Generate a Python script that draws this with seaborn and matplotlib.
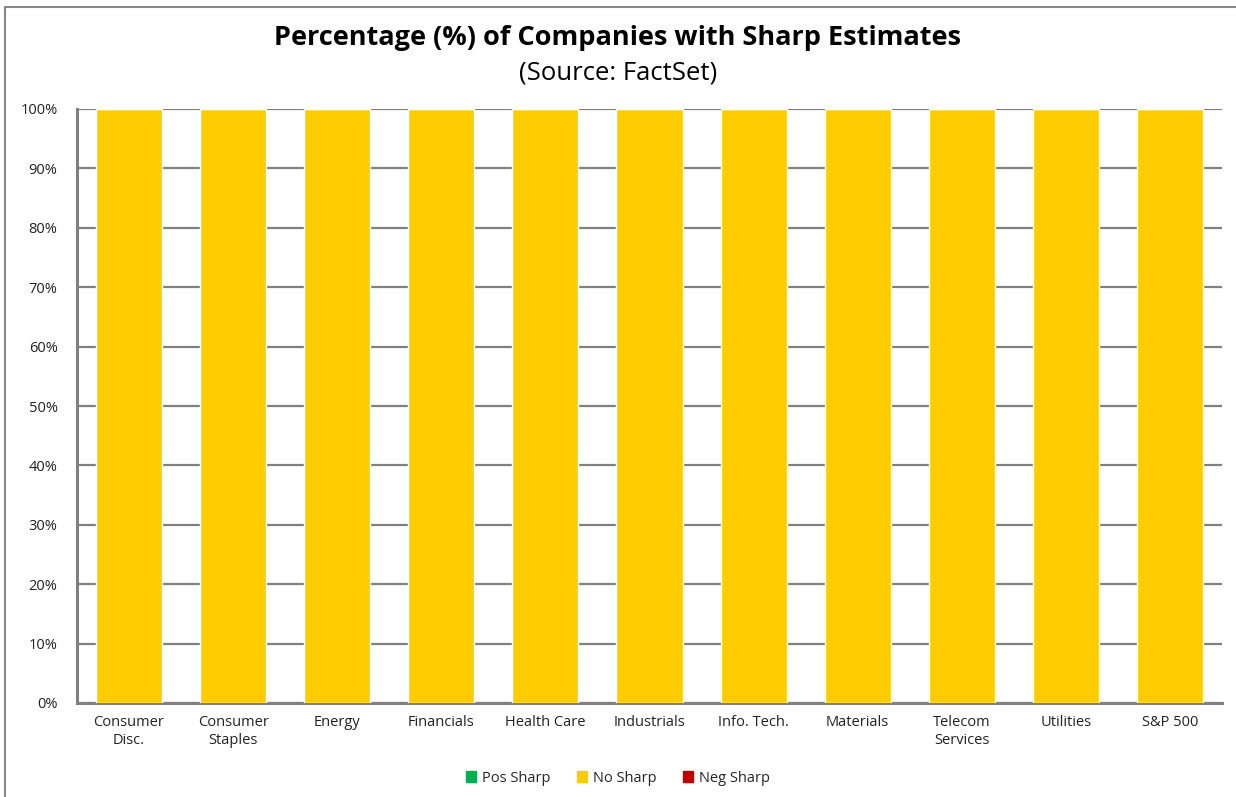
import matplotlib.pyplot as plt
import matplotlib.patches as patches
from matplotlib.lines import Line2D
from matplotlib.ticker import PercentFormatter, MultipleLocator
import numpy as np
import pandas as pd
import seaborn as sns

# Data
sectors = ["Consumer\nDisc.", "Consumer\nStaples", "Energy", "Financials", "Health Care",
           "Industrials", "Info. Tech.", "Materials", "Telecom\nServices", "Utilities", "S&P 500"]
pos_sharp = [0, 0, 0, 0, 0, 0, 0, 0, 0, 0, 0]
no_sharp = [100, 100, 100, 100, 100, 100, 100, 100, 100, 100, 100]
neg_sharp = [0, 0, 0, 0, 0, 0, 0, 0, 0, 0, 0]

COLORS = {'Pos Sharp': '#00B050', 'No Sharp': '#FFCC00', 'Neg Sharp': '#C00000'}

sns.set_style("white")
plt.rcParams['font.family'] = ['Open Sans', 'DejaVu Sans']

df = pd.DataFrame({'sector': sectors, 'Pos Sharp': pos_sharp,
                   'No Sharp': no_sharp, 'Neg Sharp': neg_sharp})

fig = plt.figure(figsize=(12.36, 7.97), dpi=100)
ax = fig.add_axes([77 / 1236, 1 - 703 / 797, (1222 - 77) / 1236, (703 - 109) / 797])

bottom = np.zeros(len(sectors))
for name in ['Pos Sharp', 'No Sharp', 'Neg Sharp']:
    sns.barplot(data=df, x='sector', y=name, color=COLORS[name], bottom=bottom,
                width=0.635, ax=ax, label=name, saturation=1, zorder=3)
    bottom = bottom + df[name].values

ax.set_ylim(0, 100)
ax.set_xlim(-0.5, len(sectors) - 0.5)
ax.yaxis.set_major_locator(MultipleLocator(10))
ax.yaxis.set_major_formatter(PercentFormatter(decimals=0))
ax.grid(axis='y', color='#808080', linewidth=1.6, zorder=0)
ax.set_axisbelow(True)
for s in ['top', 'right']:
    ax.spines[s].set_visible(False)
for s in ['left', 'bottom']:
    ax.spines[s].set_color('#808080')
    ax.spines[s].set_linewidth(2.2)
ax.set_xlabel('')
ax.set_ylabel('')
ax.tick_params(axis='both', length=0, labelsize=10.5, colors='#222222')
ax.tick_params(axis='x', pad=9)
ax.tick_params(axis='y', pad=14)
if ax.get_legend():
    ax.get_legend().remove()

handles = [patches.Patch(color=COLORS[n], label=n) for n in ['Pos Sharp', 'No Sharp', 'Neg Sharp']]
fig.legend(handles=handles, loc='center', bbox_to_anchor=(0.5, 1 - 778 / 797), ncol=3,
           frameon=False, fontsize=10.5, handlelength=0.7, handleheight=0.7,
           handletextpad=0.4, columnspacing=1.8)

fig.text(0.5, 1 - 38 / 797, "Percentage (%) of Companies with Sharp Estimates",
         ha='center', va='center', fontsize=19.5, fontweight='bold', color='black')
fig.text(0.5, 1 - 73 / 797, "(Source: FactSet)", ha='center', va='center',
         fontsize=18.5, color='black')

# outer chart border (left and top only visible)
fig.add_artist(Line2D([5 / 1236, 5 / 1236], [0, 1 - 7 / 797], transform=fig.transFigure,
                      color='#888888', linewidth=1.5))
fig.add_artist(Line2D([5 / 1236, 1], [1 - 7 / 797, 1 - 7 / 797], transform=fig.transFigure,
                      color='#888888', linewidth=1.5))

fig.savefig('out.png', dpi=100)
